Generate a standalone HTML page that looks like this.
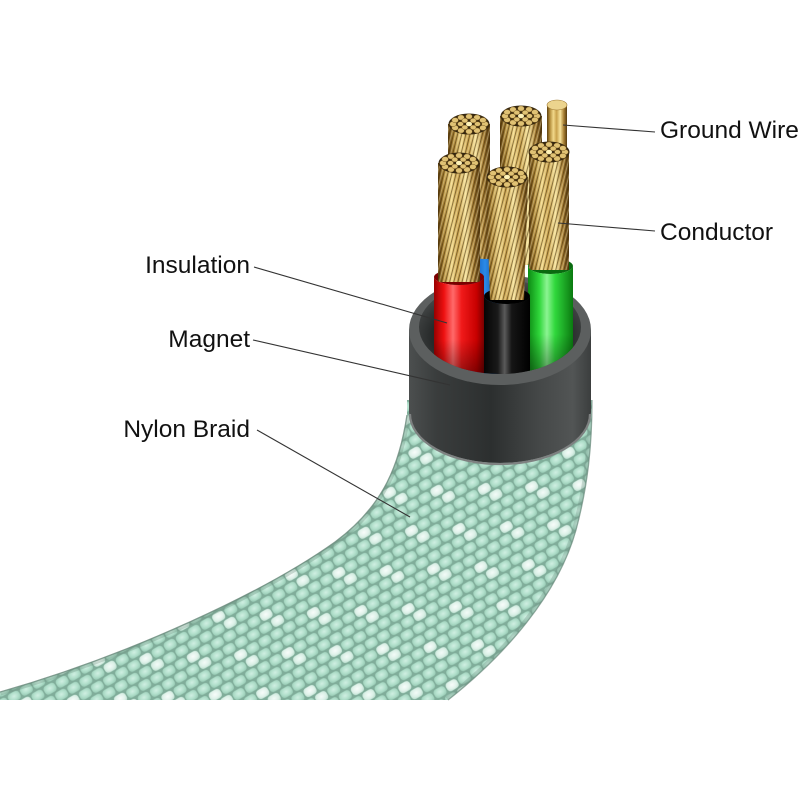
<!DOCTYPE html>
<html><head><meta charset="utf-8"><style>
html,body{margin:0;padding:0;background:#fff;}
svg{display:block;}
text{font-family:"Liberation Sans",Arial,sans-serif;font-size:24.5px;fill:#111;}
</style></head><body>
<svg width="800" height="800" viewBox="0 0 800 800" xmlns="http://www.w3.org/2000/svg">
<defs>
  <radialGradient id="cell" cx="0.5" cy="0.45" r="0.65">
    <stop offset="0" stop-color="#d0efe2"/>
    <stop offset="0.55" stop-color="#b1dfcb"/>
    <stop offset="1" stop-color="#93c6b0"/>
  </radialGradient>
  <radialGradient id="wcell" cx="0.5" cy="0.45" r="0.65">
    <stop offset="0" stop-color="#ffffff"/>
    <stop offset="0.6" stop-color="#e9f6f0"/>
    <stop offset="1" stop-color="#bfe1d2"/>
  </radialGradient>
  <pattern id="weave" patternUnits="userSpaceOnUse" width="28" height="22" patternTransform="rotate(-30)">
    <rect width="28" height="22" fill="#80ad9a"/>
    <rect x="0.7" y="0.7" width="12.6" height="9.6" rx="3.5" fill="url(#cell)"/>
    <rect x="14.7" y="0.7" width="12.6" height="9.6" rx="3.5" fill="url(#cell)"/>
    <rect x="-6.3" y="11.7" width="12.6" height="9.6" rx="3.5" fill="url(#cell)"/>
    <rect x="7.7" y="11.7" width="12.6" height="9.6" rx="3.5" fill="url(#cell)"/>
    <rect x="21.7" y="11.7" width="12.6" height="9.6" rx="3.5" fill="url(#cell)"/>
  </pattern>
  <pattern id="whites" patternUnits="userSpaceOnUse" width="84" height="44" patternTransform="rotate(-30)">
    <rect x="0.7" y="0.7" width="12.6" height="9.6" rx="3.5" fill="url(#wcell)" opacity="0.85"/>
    <rect x="7.7" y="11.7" width="12.6" height="9.6" rx="3.5" fill="url(#wcell)" opacity="0.75"/>
    <rect x="42.7" y="22.7" width="12.6" height="9.6" rx="3.5" fill="url(#wcell)" opacity="0.85"/>
    <rect x="49.7" y="33.7" width="12.6" height="9.6" rx="3.5" fill="url(#wcell)" opacity="0.75"/>
  </pattern>
  <linearGradient id="magBody" x1="0" y1="0" x2="1" y2="0">
    <stop offset="0" stop-color="#4c4f4f"/>
    <stop offset="0.15" stop-color="#3a3d3d"/>
    <stop offset="0.45" stop-color="#2c2f2f"/>
    <stop offset="0.72" stop-color="#454848"/>
    <stop offset="0.9" stop-color="#525555"/>
    <stop offset="1" stop-color="#3b3e3e"/>
  </linearGradient>
  <radialGradient id="hole" cx="0.5" cy="0.6" r="0.6">
    <stop offset="0" stop-color="#151717"/>
    <stop offset="0.7" stop-color="#272a2a"/>
    <stop offset="1" stop-color="#4a4d4d"/>
  </radialGradient>
  <linearGradient id="gold" x1="0" y1="0" x2="1" y2="0">
    <stop offset="0" stop-color="#5e400e"/>
    <stop offset="0.14" stop-color="#b08a38"/>
    <stop offset="0.32" stop-color="#f2d98a"/>
    <stop offset="0.48" stop-color="#c9a24c"/>
    <stop offset="0.66" stop-color="#f6e39c"/>
    <stop offset="0.84" stop-color="#a98034"/>
    <stop offset="1" stop-color="#553a0e"/>
  </linearGradient>
  <pattern id="strands" patternUnits="userSpaceOnUse" width="4" height="40" patternTransform="rotate(14)">
    <rect x="0" y="0" width="1" height="40" fill="#3a2508" opacity="0.55"/>
    <rect x="2.1" y="0" width="0.8" height="40" fill="#fff6d0" opacity="0.45"/>
  </pattern>
  <linearGradient id="red" x1="0" y1="0" x2="1" y2="0">
    <stop offset="0" stop-color="#9a0000"/>
    <stop offset="0.2" stop-color="#ee1111"/>
    <stop offset="0.38" stop-color="#ff6a6a"/>
    <stop offset="0.55" stop-color="#f01a1a"/>
    <stop offset="0.85" stop-color="#c80000"/>
    <stop offset="1" stop-color="#7a0000"/>
  </linearGradient>
  <linearGradient id="green" x1="0" y1="0" x2="1" y2="0">
    <stop offset="0" stop-color="#0d8a14"/>
    <stop offset="0.25" stop-color="#2fd63a"/>
    <stop offset="0.42" stop-color="#8cf492"/>
    <stop offset="0.6" stop-color="#30d83c"/>
    <stop offset="1" stop-color="#0a7a10"/>
  </linearGradient>
  <linearGradient id="black" x1="0" y1="0" x2="1" y2="0">
    <stop offset="0" stop-color="#050505"/>
    <stop offset="0.3" stop-color="#1a1a1a"/>
    <stop offset="0.45" stop-color="#5a5a5a"/>
    <stop offset="0.6" stop-color="#151515"/>
    <stop offset="1" stop-color="#000"/>
  </linearGradient>
  <linearGradient id="blue" x1="0" y1="0" x2="1" y2="0">
    <stop offset="0" stop-color="#0b4fa8"/>
    <stop offset="0.5" stop-color="#2a8ae8"/>
    <stop offset="1" stop-color="#0a3f8a"/>
  </linearGradient>
  <linearGradient id="shadeDown" x1="0" y1="0" x2="0" y2="1">
    <stop offset="0" stop-color="#000" stop-opacity="0"/>
    <stop offset="0.55" stop-color="#000" stop-opacity="0"/>
    <stop offset="1" stop-color="#000" stop-opacity="0.55"/>
  </linearGradient>
  <clipPath id="holeClip">
    <rect x="0" y="0" width="800" height="327"/>
    <ellipse cx="500" cy="327" rx="81" ry="47"/>
  </clipPath>
  <clipPath id="braidClip">
    <path d="M 407 400 L 407 415 C 400 462, 385 505, 335 542 C 265 592, 130 655, 0 692 L 0 700 L 448 700 C 505 655, 558 595, 576 530 C 588 485, 592 445, 592 400 Z"/>
  </clipPath>
  <g id="tip">
    <ellipse cx="0" cy="0" rx="20.5" ry="10.5" fill="#35270f"/>
    <g fill="#e0c274" stroke="#7a5a22" stroke-width="0.5">
      <ellipse cx="16" cy="0" rx="3.3" ry="2.6"/>
      <ellipse cx="13.9" cy="3.8" rx="3.3" ry="2.6"/>
      <ellipse cx="8" cy="6.5" rx="3.3" ry="2.6"/>
      <ellipse cx="0" cy="7.5" rx="3.3" ry="2.6"/>
      <ellipse cx="-8" cy="6.5" rx="3.3" ry="2.6"/>
      <ellipse cx="-13.9" cy="3.8" rx="3.3" ry="2.6"/>
      <ellipse cx="-16" cy="0" rx="3.3" ry="2.6"/>
      <ellipse cx="-13.9" cy="-3.8" rx="3.3" ry="2.6"/>
      <ellipse cx="-8" cy="-6.5" rx="3.3" ry="2.6"/>
      <ellipse cx="0" cy="-7.5" rx="3.3" ry="2.6"/>
      <ellipse cx="8" cy="-6.5" rx="3.3" ry="2.6"/>
      <ellipse cx="13.9" cy="-3.8" rx="3.3" ry="2.6"/>
      <ellipse cx="8.5" cy="0" rx="3" ry="2.3"/>
      <ellipse cx="4.2" cy="3.4" rx="3" ry="2.3"/>
      <ellipse cx="-4.2" cy="3.4" rx="3" ry="2.3"/>
      <ellipse cx="-8.5" cy="0" rx="3" ry="2.3"/>
      <ellipse cx="-4.2" cy="-3.4" rx="3" ry="2.3"/>
      <ellipse cx="4.2" cy="-3.4" rx="3" ry="2.3"/>
    </g>
    <ellipse cx="0" cy="0" rx="3" ry="2.3" fill="#fff3b8"/>
  </g>
</defs>

<rect width="800" height="800" fill="#fff"/>

<!-- Nylon braid -->
<g clip-path="url(#braidClip)">
  <rect x="0" y="380" width="620" height="330" fill="url(#weave)"/>
  <rect x="0" y="380" width="620" height="330" fill="url(#whites)"/>
  <path d="M 407 415 C 400 462, 385 505, 335 542 C 265 592, 130 655, 0 692" fill="none" stroke="#6a8a7c" stroke-width="7" opacity="0.3"/>
  <path d="M 448 700 C 505 655, 558 595, 576 530 C 588 485, 592 445, 592 400" fill="none" stroke="#6a8a7c" stroke-width="8" opacity="0.28"/>
</g>
<path d="M 407 415 C 400 462, 385 505, 335 542 C 265 592, 130 655, 0 692" fill="none" stroke="#6a8a7c" stroke-width="1.3" opacity="0.8"/>
<path d="M 448 700 C 505 655, 558 595, 576 530 C 588 485, 592 445, 592 400" fill="none" stroke="#6a8a7c" stroke-width="1.3" opacity="0.7"/>

<!-- Magnet -->
<path d="M 409 330 L 409 412 A 91 51 0 0 0 591 412 L 591 330 Z" fill="url(#magBody)"/>
<path d="M 410 414 A 90 50 0 0 0 590 414" fill="none" stroke="#7e8181" stroke-width="2.2"/>
<ellipse cx="500" cy="330" rx="91" ry="55" fill="#5c5f5f"/>
<ellipse cx="500" cy="327" rx="81" ry="47" fill="url(#hole)"/>

<!-- Wires -->
<g clip-path="url(#holeClip)">
  <path d="M 448 124 L 448 275 L 490 275 L 490 124 Z" fill="url(#gold)"/>
  <path d="M 448 124 L 448 275 L 490 275 L 490 124 Z" fill="url(#strands)"/>
  <use href="#tip" x="469" y="124"/>
  <path d="M 500 116 L 500 265 L 542 265 L 542 116 Z" fill="url(#gold)"/>
  <path d="M 500 116 L 500 265 L 542 265 L 542 116 Z" fill="url(#strands)"/>
  <use href="#tip" x="521" y="116"/>
  <rect x="547" y="105" width="20" height="55" fill="url(#gold)"/>
  <ellipse cx="557" cy="105" rx="10" ry="5" fill="#ecd48e" stroke="#a07a34" stroke-width="0.6"/>
  <path d="M 470 254 A 15 5 0 0 0 500 254 L 500 385 L 470 385 Z" fill="url(#blue)"/>
  <ellipse cx="550.5" cy="266" rx="22.5" ry="8" fill="#0a6a10"/>
  <path d="M 529 152 L 529 270 L 569 270 L 569 152 Z" fill="url(#gold)"/>
  <path d="M 529 152 L 529 270 L 569 270 L 569 152 Z" fill="url(#strands)"/>
  <use href="#tip" x="549" y="152"/>
  <path d="M 528 266 A 22.5 8 0 0 0 573 266 L 573 390 L 528 390 Z" fill="url(#green)"/>
  <path d="M 528 266 A 22.5 8 0 0 0 573 266 L 573 390 L 528 390 Z" fill="url(#shadeDown)"/>
  <ellipse cx="459" cy="277" rx="25" ry="8" fill="#7a0000"/>
  <path d="M 438 163 L 438 282 L 480 282 L 480 163 Z" fill="url(#gold)"/>
  <path d="M 438 163 L 438 282 L 480 282 L 480 163 Z" fill="url(#strands)"/>
  <use href="#tip" x="459" y="163"/>
  <path d="M 434 277 A 25 8 0 0 0 484 277 L 484 390 L 434 390 Z" fill="url(#red)"/>
  <path d="M 434 277 A 25 8 0 0 0 484 277 L 484 390 L 434 390 Z" fill="url(#shadeDown)"/>
  <ellipse cx="507" cy="296" rx="23" ry="8" fill="#000"/>
  <path d="M 486 177 L 490 300 L 524 300 L 528 177 Z" fill="url(#gold)"/>
  <path d="M 486 177 L 490 300 L 524 300 L 528 177 Z" fill="url(#strands)"/>
  <use href="#tip" x="507" y="177"/>
  <path d="M 484 296 A 23 8 0 0 0 530 296 L 530 390 L 484 390 Z" fill="url(#black)"/>
</g>

<!-- Leader lines -->
<g stroke="#333" stroke-width="1.1" fill="none">
  <line x1="563" y1="125" x2="655" y2="132"/>
  <line x1="558" y1="223" x2="655" y2="231"/>
  <line x1="254" y1="267" x2="447" y2="323"/>
  <line x1="253" y1="340" x2="450" y2="385"/>
  <line x1="257" y1="430" x2="410" y2="517"/>
</g>

<!-- Labels -->
<text x="660" y="138">Ground Wire</text>
<text x="660" y="240">Conductor</text>
<text x="250" y="273" text-anchor="end">Insulation</text>
<text x="250" y="347" text-anchor="end">Magnet</text>
<text x="250" y="437" text-anchor="end">Nylon Braid</text>
</svg>
</body></html>
